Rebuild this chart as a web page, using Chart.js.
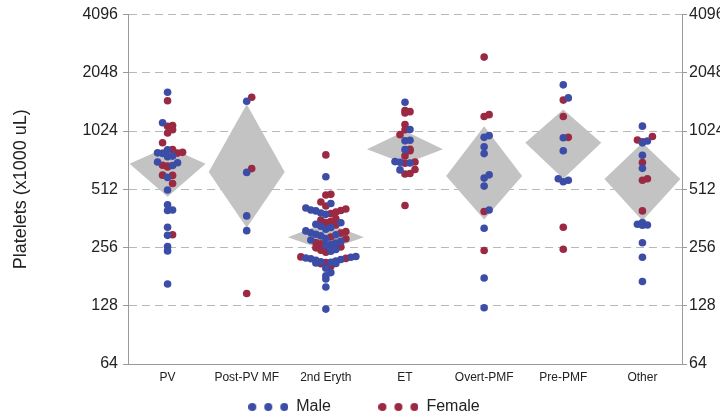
<!DOCTYPE html>
<html>
<head>
<meta charset="utf-8">
<script src="https://cdn.jsdelivr.net/npm/chart.js@4.4.1/dist/chart.umd.min.js"></script>
<style>
  html, body { margin: 0; padding: 0; background: #fff; overflow: hidden; }
  #wrap { width: 728px; height: 425px; }
</style>
</head>
<body>
<div id="wrap"><canvas id="c" width="728" height="425"></canvas></div>
<script>
const categories = ['PV', 'Post-PV MF', '2nd Eryth', 'ET', 'Overt-PMF', 'Pre-PMF', 'Other'];
const yTicks = [64, 128, 256, 512, 1024, 2048, 4096];

// platelets per patient, one list per category
const maleValues = [
  [1625, 1130, 820, 790, 785, 760, 755, 708, 702, 680, 590, 508, 426, 400, 398, 326, 296, 259, 246, 166],
  [1460, 626, 373, 313],
  [594, 432, 410, 400, 396, 386, 380, 344, 338, 330, 325, 318, 312, 305, 300, 298, 294, 285, 280, 276, 270,
   265, 262, 250, 245, 230, 228, 226, 224, 222, 220, 218, 216, 215, 213, 212, 200, 190, 183, 176, 160, 123],
  [1444, 1044, 918, 912, 821, 712, 706, 700, 645],
  [970, 950, 850, 783, 608, 585, 532, 400, 322, 178, 125],
  [1775, 1520, 945, 810, 580, 570, 560],
  [1086, 910, 890, 768, 657, 345, 338, 335, 334, 271, 228, 171],
];
const femaleValues = [
  [1470, 1095, 1085, 1040, 1000, 891, 822, 795, 788, 682, 676, 668, 606, 604, 549, 298],
  [1532, 655, 148],
  [771, 482, 478, 440, 420, 405, 398, 390, 384, 360, 355, 350, 345, 335, 310, 304, 290, 284, 272, 268,
   258, 255, 248, 242, 229, 225, 214, 211, 205],
  [1309, 1290, 1270, 1106, 1040, 981, 824, 810, 762, 709, 698, 648, 618, 614, 422],
  [2470, 1245, 1217, 393, 247],
  [1480, 1218, 950, 326, 251],
  [960, 920, 900, 705, 580, 570, 396],
];

// mean diamonds: centre and upper / lower tips
const diamondMid = [693, 630, 289, 824, 600, 891, 578];
const diamondHigh = [850, 1410, 345, 1024, 1086, 1323, 891];
const diamondLow = [468, 324, 247, 693, 357, 580, 352];

const BLUE = '#3b4da6';
const RED = '#9b2941';
const GREY = '#c3c3c3';
const AXIS = '#9a9a9a';
const TEXT = '#222';
const HALF = 0.48;

Chart.defaults.font.family = "'Liberation Sans', Arial, sans-serif";

function dotIcon(color) {
  const c = document.createElement('canvas');
  c.width = 40; c.height = 10;
  const g = c.getContext('2d');
  g.fillStyle = color;
  [4, 20, 36].forEach(x => { g.beginPath(); g.arc(x, 5, 4, 0, Math.PI * 2); g.fill(); });
  return c;
}

const diamondSets = categories.map((cat, i) => ({
  type: 'line',
  label: cat,
  data: [
    { x: i - HALF, y: diamondMid[i] },
    { x: i, y: diamondHigh[i] },
    { x: i + HALF, y: diamondMid[i] },
    { x: i, y: diamondLow[i] },
    { x: i - HALF, y: diamondMid[i] },
  ],
  fill: 'shape',
  backgroundColor: GREY,
  borderColor: 'rgba(0,0,0,0)',
  borderWidth: 0,
  pointRadius: 0,
  tension: 0,
  order: 2,
}));

const sexSets = [
  { type: 'scatter', label: 'Male', isSex: true, data: [], backgroundColor: BLUE, borderWidth: 0, pointRadius: 3.8, order: 1 },
  { type: 'scatter', label: 'Female', isSex: true, data: [], backgroundColor: RED, borderWidth: 0, pointRadius: 3.8, order: 1 },
];

const logAxis = (pos) => ({
  type: 'logarithmic',
  position: pos,
  min: 64,
  max: 4096,
  afterBuildTicks: s => { s.ticks = yTicks.map(v => ({ value: v })); },
  ticks: { callback: v => String(v), color: TEXT, font: { size: 16 }, padding: pos === 'left' ? 5 : 2 },
  border: { color: AXIS, dash: pos === 'left' ? [8, 5] : [] },
});

const yLeft = logAxis('left');
yLeft.grid = { color: '#b8b8b8', tickColor: AXIS, tickLength: 5, tickBorderDash: [] };
yLeft.title = { display: true, text: 'Platelets (x1000 uL)', color: TEXT, font: { size: 18 }, padding: { top: 10, bottom: 0 } };
yLeft.afterFit = s => { s.width = 128; };

const yRight = logAxis('right');
yRight.grid = { drawOnChartArea: false, tickColor: AXIS, tickLength: 5 };
yRight.afterFit = s => { s.width = 46; };

const chart = new Chart(document.getElementById('c'), {
  type: 'scatter',
  data: { datasets: [...diamondSets, ...sexSets] },
  options: {
    responsive: false,
    animation: false,
    layout: { padding: { top: 13, left: 0, right: 0, bottom: 0 } },
    scales: {
      x: {
        type: 'linear',
        min: -0.5,
        max: 6.5,
        afterBuildTicks: s => { s.ticks = categories.map((_, i) => ({ value: i })); },
        ticks: { callback: v => categories[v], color: TEXT, font: { size: 12 }, padding: 6, autoSkip: false, maxRotation: 0 },
        grid: { drawOnChartArea: false, drawTicks: false },
        border: { color: AXIS },
        afterFit: s => { s.height = 32; },
      },
      y: yLeft,
      y2: yRight,
    },
    plugins: {
      tooltip: { enabled: false },
      legend: {
        position: 'bottom',
        labels: {
          usePointStyle: true,
          pointStyleWidth: 40,
          padding: 3,
          color: TEXT,
          font: { size: 16 },
          generateLabels: ch => Chart.defaults.plugins.legend.labels.generateLabels(ch)
            .filter(it => ch.data.datasets[it.datasetIndex].isSex)
            .map(it => {
              const ds = ch.data.datasets[it.datasetIndex];
              return { ...it, pointStyle: dotIcon(ds.backgroundColor), text: ds.label === 'Male' ? 'Male          ' : ds.label };
            }),
        },
      },
    },
  },
});

// binned swarm: dots in the same pixel band fan out from the centre,
// lowest value in the middle, alternating right / left
function swarm() {
  const xs = chart.scales.x, ys = chart.scales.y;
  const BIN = 8, STEP = 5;
  const male = [], female = [];
  categories.forEach((cat, i) => {
    const bins = {};
    const add = (v, s) => {
      const py = ys.getPixelForValue(v);
      const k = Math.floor((py - ys.top) / BIN);
      (bins[k] = bins[k] || []).push({ v, s });
    };
    maleValues[i].forEach(v => add(v, 0));
    femaleValues[i].forEach(v => add(v, 1));
    const cx = xs.getPixelForValue(i);
    Object.values(bins).forEach(list => {
      list.sort((a, b) => a.v - b.v);
      list.forEach((p, j) => {
        const dx = j === 0 ? 0 : (j % 2 ? 1 : -1) * Math.ceil(j / 2) * STEP;
        (p.s ? female : male).push({ x: xs.getValueForPixel(cx + dx), y: p.v });
      });
    });
  });
  const n = diamondSets.length;
  chart.data.datasets[n].data = male;
  chart.data.datasets[n + 1].data = female;
  chart.update('none');
}
swarm();
</script>
</body>
</html>
